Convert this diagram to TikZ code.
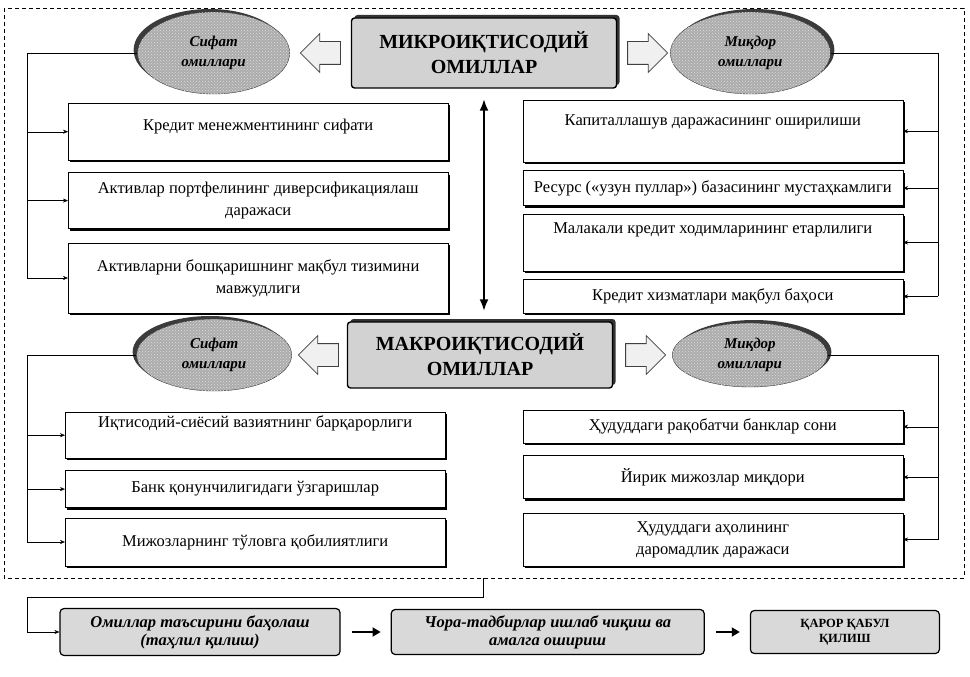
\documentclass[tikz,border=0pt]{standalone}
\usepackage{fontspec}
\setmainfont{Liberation Serif}
\usetikzlibrary{shapes.geometric, shapes.arrows, arrows.meta, positioning, calc, shadows, patterns}

\begin{document}
\begin{tikzpicture}[
        x=1pt, y=-1pt,
        node distance=12pt,
        font=\fontsize{16.5}{22}\selectfont,
        head/.style={rectangle, draw=black, line width=1.4pt, fill=gray!35, rounded corners=3pt, minimum width=265pt, minimum height=70pt, align=center, font=\fontsize{20}{25}\selectfont\bfseries, drop shadow={shadow xshift=3pt, shadow yshift=3pt, fill=black!80, opacity=1}},
        factor/.style={ellipse, draw=gray!40!black, fill=gray!65, postaction={pattern=crosshatch dots, pattern color=gray!25}, minimum width=152pt, minimum height=82pt, inner sep=0pt, align=center, font=\fontsize{15}{20}\selectfont\bfseries\itshape},
        lshade/.style={drop shadow={shadow xshift=-4pt, shadow yshift=3pt, fill=black!85, opacity=0.9}},
        rshade/.style={drop shadow={shadow xshift=4pt, shadow yshift=3pt, fill=black!85, opacity=0.9}},
        barrow/.style={single arrow, draw=gray!50!black, thick, fill=gray!12, minimum height=40pt, inner xsep=0pt, inner ysep=11pt, single arrow head extend=8pt},
        item/.style={rectangle, draw=black, thin, fill=white, minimum width=380pt, align=center, inner sep=4pt, drop shadow={shadow xshift=2pt, shadow yshift=-2pt, fill=black, opacity=1}},
        stepbox/.style={rectangle, draw=black, line width=1.2pt, rounded corners=4pt, fill=gray!30, align=center, font=\fontsize{16.5}{18}\selectfont\bfseries\itshape},
        frame/.style={draw=black, thin, dash pattern=on 4pt off 3pt},
        branch/.style={-{Stealth[length=5pt,width=4pt]}, thin},
        flow/.style={-{Triangle[length=8pt,width=9pt]}, line width=1.8pt, shorten <=11pt, shorten >=10pt},
        link/.style={{Latex[length=12pt,width=9pt]}-{Latex[length=12pt,width=9pt]}, line width=2.6pt}
    ]
        \useasboundingbox (0,0) rectangle (970,677);

        % outer dashed frame
        \coordinate (frameNW) at (4,8);
        \coordinate (frameSE) at (964,578);
        \draw[frame] (frameNW) rectangle (frameSE);
        \coordinate (lbus) at (27,0);
        \coordinate (rbus) at (938,0);

        % micro level
        \node[head] (micro) at (484,53) {МИКРОИҚТИСОДИЙ\\ОМИЛЛАР};
        \node[barrow, shape border rotate=180, left=10pt of micro] (mlarr) {};
        \node[factor, lshade, left=10pt of mlarr] (msifat) {Сифат\\омиллари};
        \node[barrow, right=10pt of micro] (mrarr) {};
        \node[factor, rshade, minimum width=160pt, right=2pt of mrarr] (mmiqdor) {Миқдор\\омиллари};

        \node[item, anchor=north west, minimum height=57pt, text height=23pt, text depth=26pt] (l1) at (68,103) {Кредит менежментининг сифати};
        \node[item, below=12pt of l1, minimum height=56pt] (l2) {Активлар портфелининг диверсификациялаш\\даражаси};
        \node[item, below=14pt of l2, minimum height=70pt] (l3) {Активларни бошқаришнинг мақбул тизимини\\мавжудлиги};

        \node[item, anchor=north east, minimum height=62pt, text height=21pt, text depth=33pt] (r1) at (903,100) {Капиталлашув даражасининг оширилиши};
        \node[item, below=8pt of r1, minimum height=35pt] (r2) {Ресурс («узун пуллар») базасининг мустаҳкамлиги};
        \node[item, below=8pt of r2, minimum height=57pt, text height=15pt, text depth=34pt] (r3) {Малакали кредит ходимларининг етарлилиги};
        \node[item, below=8pt of r3, minimum height=34pt] (r4) {Кредит хизматлари мақбул баҳоси};

        % macro level
        \node[head, minimum height=66pt] (macro) at (480,355) {МАКРОИҚТИСОДИЙ\\ОМИЛЛАР};
        \node[barrow, shape border rotate=180, left=8pt of macro] (Mlarr) {};
        \node[factor, lshade, minimum width=155pt, minimum height=72pt, left=6pt of Mlarr] (Msifat) {Сифат\\омиллари};
        \node[barrow, right=12pt of macro] (Mrarr) {};
        \node[factor, rshade, minimum width=155pt, minimum height=64pt, right=6pt of Mrarr] (Mmiqdor) {Миқдор\\омиллари};

        \draw[link, shorten <=10pt, shorten >=10pt] (micro.south) -- (micro.south |- macro.north);

        \node[item, anchor=north west, minimum height=46pt, text height=11pt, text depth=27pt] (bl1) at (65,412) {Иқтисодий-сиёсий вазиятнинг барқарорлиги};
        \node[item, below=12pt of bl1, minimum height=37pt] (bl2) {Банк қонунчилигидаги ўзгаришлар};
        \node[item, below=10pt of bl2, minimum height=48pt] (bl3) {Мижозларнинг тўловга қобилиятлиги};

        \node[item, anchor=north east, minimum height=33pt] (br1) at (903,410) {Ҳудуддаги рақобатчи банклар сони};
        \node[item, below=12pt of br1, minimum height=43pt] (br2) {Йирик мижозлар миқдори};
        \node[item, below=14pt of br2, minimum height=53pt] (br3) {Ҳудуддаги аҳолининг\\даромадлик даражаси};

        % brackets to the factor lists
        \draw (msifat.west) -| (l3.west -| lbus);
        \foreach \b in {l1,l2,l3} \draw[branch] (\b.west -| lbus) -- (\b.west);
        \draw (mmiqdor.east) -| (r4.east -| rbus);
        \foreach \b in {r1,r2,r3,r4} \draw[branch] (\b.east -| rbus) -- (\b.east);
        \draw (Msifat.west) -| (bl3.west -| lbus);
        \foreach \b in {bl1,bl2,bl3} \draw[branch] (\b.west -| lbus) -- (\b.west);
        \draw (Mmiqdor.east) -| (br3.east -| rbus);
        \foreach \b in {br1,br2,br3} \draw[branch] (\b.east -| rbus) -- (\b.east);

        % decision steps
        \node[stepbox, minimum width=280pt, minimum height=47pt] (assess) at (200,632) {Омиллар таъсирини баҳолаш\\(таҳлил қилиш)};
        \node[stepbox, minimum width=313pt, minimum height=45pt, right=50pt of assess] (measures) {Чора-тадбирлар ишлаб чиқиш ва\\амалга ошириш};
        \node[stepbox, font=\fontsize{12.5}{15}\selectfont\bfseries, minimum width=189pt, minimum height=43pt, right=45pt of measures] (decide) {ҚАРОР ҚАБУЛ\\ҚИЛИШ};
        \draw[flow] (assess) -- (measures);
        \draw[flow] (measures) -- (decide);

        \coordinate (fb) at (483,578);
        \coordinate (fbturn) at (27,597);
        \draw[branch] (fb) |- (fbturn) |- (assess.west);
    \end{tikzpicture}
\end{document}
